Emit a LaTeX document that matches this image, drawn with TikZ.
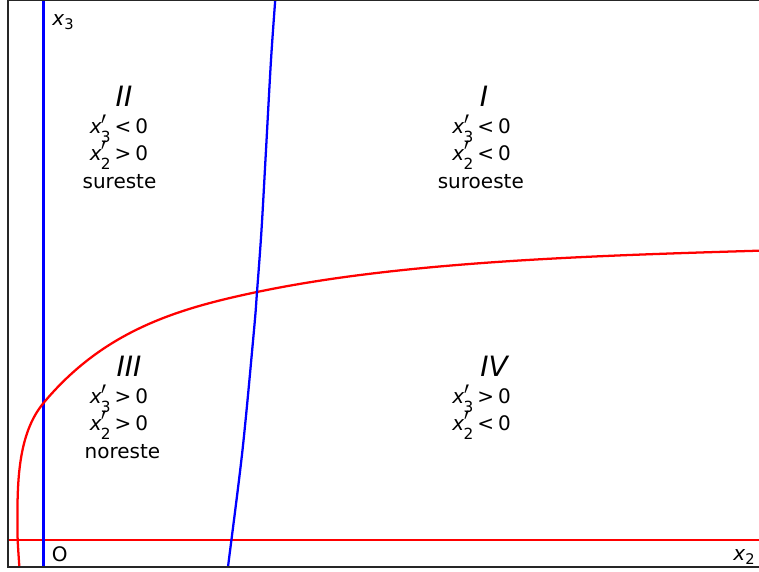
\documentclass[tikz,border=0pt]{standalone}
\usepackage{graphicx}
\usepackage{fontspec}
\setmainfont{DejaVu Sans}
\newcommand\subs[1]{\raisebox{-0.47em}{\fontsize{11.5}{11.5}\selectfont #1}}
\newcommand\asubs[1]{\raisebox{-0.22em}{\fontsize{11}{11}\selectfont #1}}
\newcommand\xpr[1]{\textit{x}\makebox[0pt][l]{\raisebox{-0.74em}{\scalebox{1.2}[2.3]{\char"2032}}}\hspace{-0.04em}\subs{#1}}
\newcommand\cnd[2]{\xpr{#1}\hspace{0.2em}#2\hspace{0.2em}0}
\tikzset{
  lab/.style={font=\fontsize{15}{18}\selectfont, inner sep=0pt, anchor=base},
  rom/.style={font=\fontsize{21}{24}\selectfont\itshape, inner sep=0pt, anchor=base},
  axl/.style={font=\fontsize{15}{18}\selectfont, inner sep=0pt, anchor=base west},
  redc/.style={draw=red, line width=1.7pt},
  bluec/.style={draw=blue, line width=1.7pt},
  frame/.style={draw=black!85, line width=0.8pt}
}
\begin{document}
\begin{tikzpicture}[x=0.75pt,y=-0.75pt]
\useasboundingbox (0,0) rectangle (759,571);
\coordinate (tl) at (8,0.5);
\coordinate (bl) at (8,567);
\coordinate (br) at (770,567);
\coordinate (tr) at (770,0.5);
\begin{scope}
\clip (8,0.5) rectangle (770,567);
% red horizontal
\coordinate (rh1) at (8,540);
\coordinate (rh2) at (770,540);
\draw[redc] (rh1) -- (rh2);
% blue vertical
\coordinate (bv1) at (43.5,-5);
\coordinate (bv2) at (43.5,575);
\draw[bluec] (bv1) -- (bv2);
% red curve
\draw[redc] (19.8,575) .. controls (18.8,555) and (17.4,545) .. (17.4,525)
  .. controls (17.4,484) and (17.3,434.5) .. (43.5,403)
  .. controls (104.3,330) and (178.7,308.4) .. (257,292)
  .. controls (403.8,261.2) and (595,255.6) .. (765,250.5);
% blue curve
\draw[bluec] plot[smooth, tension=0.55] coordinates {
 (275.6,-5) (271,60) (266,150) (261.5,230) (257,292) (254,330) (242.5,450) (228,567) (227.4,575)};
\end{scope}
% frame
\draw[frame] (tr) -- (tl) -- (bl) -- (br);
% axis labels
\node[axl] (lx3) at (52,25) {\textit{x}\asubs{3}};
\node[axl] (lO) at (51.5,561.7) {O};
\node[axl] (lx2) at (733,560) {\textit{x}\asubs{2}};
% region II
\node[rom] (rII) at (124,106.5) {II};
\node[lab] (a1) at (119,133.3) {\cnd{3}{<}};
\node[lab] (a2) at (119,160) {\cnd{2}{>}};
\node[lab] (a3) at (119.5,188.3) {sureste};
% region I
\node[rom] (rI) at (484,106.5) {I};
\node[lab] (b1) at (481.7,133.3) {\cnd{3}{<}};
\node[lab] (b2) at (481.7,160) {\cnd{2}{<}};
\node[lab] (b3) at (480.8,188.3) {suroeste};
% region III
\node[rom] (rIII) at (129,376.7) {III};
\node[lab] (c1) at (119,403.3) {\cnd{3}{>}};
\node[lab] (c2) at (119,430) {\cnd{2}{>}};
\node[lab] (c3) at (122.5,458.3) {noreste};
% region IV
\node[rom] (rIV) at (494,376.5) {IV};
\node[lab] (d1) at (481.7,403.3) {\cnd{3}{>}};
\node[lab] (d2) at (481.7,430) {\cnd{2}{<}};
\end{tikzpicture}
\end{document}
